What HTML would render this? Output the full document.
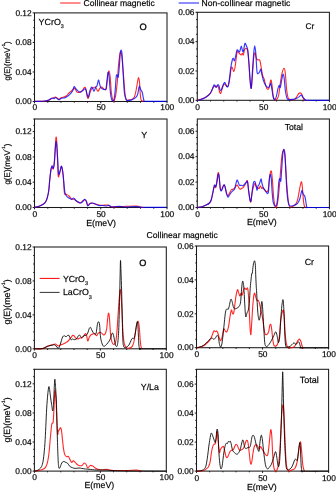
<!DOCTYPE html>
<html><head><meta charset="utf-8"><style>
html,body{margin:0;padding:0;background:#fff;}
svg{display:block;will-change:transform;font-family:"Liberation Sans", sans-serif;}
text{text-rendering:geometricPrecision;stroke:#000;stroke-width:0.25px;stroke-opacity:0.7;}
</style></head><body>
<svg width="336" height="492" viewBox="0 0 336 492">
<rect width="336" height="492" fill="#fff"/>
<rect x="34.5" y="12.9" width="132.50" height="88.60" fill="none" stroke="#1a1a1a" stroke-width="1.05"/>
<line x1="32.70" y1="101.50" x2="34.50" y2="101.50" stroke="#1a1a1a" stroke-width="1"/>
<text x="31.70" y="104.20" font-size="8.4" text-anchor="end" >0.00</text>
<line x1="33.30" y1="94.12" x2="34.50" y2="94.12" stroke="#1a1a1a" stroke-width="1"/>
<line x1="33.30" y1="86.73" x2="34.50" y2="86.73" stroke="#1a1a1a" stroke-width="1"/>
<line x1="33.30" y1="79.35" x2="34.50" y2="79.35" stroke="#1a1a1a" stroke-width="1"/>
<line x1="32.70" y1="71.97" x2="34.50" y2="71.97" stroke="#1a1a1a" stroke-width="1"/>
<text x="31.70" y="74.67" font-size="8.4" text-anchor="end" >0.04</text>
<line x1="33.30" y1="64.58" x2="34.50" y2="64.58" stroke="#1a1a1a" stroke-width="1"/>
<line x1="33.30" y1="57.20" x2="34.50" y2="57.20" stroke="#1a1a1a" stroke-width="1"/>
<line x1="33.30" y1="49.82" x2="34.50" y2="49.82" stroke="#1a1a1a" stroke-width="1"/>
<line x1="32.70" y1="42.43" x2="34.50" y2="42.43" stroke="#1a1a1a" stroke-width="1"/>
<text x="31.70" y="45.13" font-size="8.4" text-anchor="end" >0.08</text>
<line x1="33.30" y1="35.05" x2="34.50" y2="35.05" stroke="#1a1a1a" stroke-width="1"/>
<line x1="33.30" y1="27.67" x2="34.50" y2="27.67" stroke="#1a1a1a" stroke-width="1"/>
<line x1="33.30" y1="20.28" x2="34.50" y2="20.28" stroke="#1a1a1a" stroke-width="1"/>
<line x1="32.70" y1="12.90" x2="34.50" y2="12.90" stroke="#1a1a1a" stroke-width="1"/>
<text x="31.70" y="15.60" font-size="8.4" text-anchor="end" >0.12</text>
<line x1="34.50" y1="101.50" x2="34.50" y2="103.30" stroke="#1a1a1a" stroke-width="1"/>
<text x="34.80" y="110.20" font-size="8.4" text-anchor="middle" >0</text>
<line x1="47.75" y1="101.50" x2="47.75" y2="102.70" stroke="#1a1a1a" stroke-width="1"/>
<line x1="61.00" y1="101.50" x2="61.00" y2="102.70" stroke="#1a1a1a" stroke-width="1"/>
<line x1="74.25" y1="101.50" x2="74.25" y2="102.70" stroke="#1a1a1a" stroke-width="1"/>
<line x1="87.50" y1="101.50" x2="87.50" y2="102.70" stroke="#1a1a1a" stroke-width="1"/>
<line x1="100.75" y1="101.50" x2="100.75" y2="103.30" stroke="#1a1a1a" stroke-width="1"/>
<text x="101.05" y="110.20" font-size="8.4" text-anchor="middle" >50</text>
<line x1="114.00" y1="101.50" x2="114.00" y2="102.70" stroke="#1a1a1a" stroke-width="1"/>
<line x1="127.25" y1="101.50" x2="127.25" y2="102.70" stroke="#1a1a1a" stroke-width="1"/>
<line x1="140.50" y1="101.50" x2="140.50" y2="102.70" stroke="#1a1a1a" stroke-width="1"/>
<line x1="153.75" y1="101.50" x2="153.75" y2="102.70" stroke="#1a1a1a" stroke-width="1"/>
<line x1="167.00" y1="101.50" x2="167.00" y2="103.30" stroke="#1a1a1a" stroke-width="1"/>
<text x="167.30" y="110.20" font-size="8.4" text-anchor="middle" >100</text>
<rect x="197.3" y="12.3" width="132.10" height="88.00" fill="none" stroke="#1a1a1a" stroke-width="1.05"/>
<line x1="195.50" y1="100.30" x2="197.30" y2="100.30" stroke="#1a1a1a" stroke-width="1"/>
<text x="194.50" y="103.00" font-size="8.4" text-anchor="end" >0.00</text>
<line x1="196.10" y1="92.97" x2="197.30" y2="92.97" stroke="#1a1a1a" stroke-width="1"/>
<line x1="196.10" y1="85.63" x2="197.30" y2="85.63" stroke="#1a1a1a" stroke-width="1"/>
<line x1="196.10" y1="78.30" x2="197.30" y2="78.30" stroke="#1a1a1a" stroke-width="1"/>
<line x1="195.50" y1="70.97" x2="197.30" y2="70.97" stroke="#1a1a1a" stroke-width="1"/>
<text x="194.50" y="73.67" font-size="8.4" text-anchor="end" >0.02</text>
<line x1="196.10" y1="63.63" x2="197.30" y2="63.63" stroke="#1a1a1a" stroke-width="1"/>
<line x1="196.10" y1="56.30" x2="197.30" y2="56.30" stroke="#1a1a1a" stroke-width="1"/>
<line x1="196.10" y1="48.97" x2="197.30" y2="48.97" stroke="#1a1a1a" stroke-width="1"/>
<line x1="195.50" y1="41.63" x2="197.30" y2="41.63" stroke="#1a1a1a" stroke-width="1"/>
<text x="194.50" y="44.33" font-size="8.4" text-anchor="end" >0.04</text>
<line x1="196.10" y1="34.30" x2="197.30" y2="34.30" stroke="#1a1a1a" stroke-width="1"/>
<line x1="196.10" y1="26.97" x2="197.30" y2="26.97" stroke="#1a1a1a" stroke-width="1"/>
<line x1="196.10" y1="19.63" x2="197.30" y2="19.63" stroke="#1a1a1a" stroke-width="1"/>
<line x1="195.50" y1="12.30" x2="197.30" y2="12.30" stroke="#1a1a1a" stroke-width="1"/>
<text x="194.50" y="15.00" font-size="8.4" text-anchor="end" >0.06</text>
<line x1="197.30" y1="100.30" x2="197.30" y2="102.10" stroke="#1a1a1a" stroke-width="1"/>
<text x="197.60" y="109.50" font-size="8.4" text-anchor="middle" >0</text>
<line x1="210.51" y1="100.30" x2="210.51" y2="101.50" stroke="#1a1a1a" stroke-width="1"/>
<line x1="223.72" y1="100.30" x2="223.72" y2="101.50" stroke="#1a1a1a" stroke-width="1"/>
<line x1="236.93" y1="100.30" x2="236.93" y2="101.50" stroke="#1a1a1a" stroke-width="1"/>
<line x1="250.14" y1="100.30" x2="250.14" y2="101.50" stroke="#1a1a1a" stroke-width="1"/>
<line x1="263.35" y1="100.30" x2="263.35" y2="102.10" stroke="#1a1a1a" stroke-width="1"/>
<text x="263.65" y="109.50" font-size="8.4" text-anchor="middle" >50</text>
<line x1="276.56" y1="100.30" x2="276.56" y2="101.50" stroke="#1a1a1a" stroke-width="1"/>
<line x1="289.77" y1="100.30" x2="289.77" y2="101.50" stroke="#1a1a1a" stroke-width="1"/>
<line x1="302.98" y1="100.30" x2="302.98" y2="101.50" stroke="#1a1a1a" stroke-width="1"/>
<line x1="316.19" y1="100.30" x2="316.19" y2="101.50" stroke="#1a1a1a" stroke-width="1"/>
<line x1="329.40" y1="100.30" x2="329.40" y2="102.10" stroke="#1a1a1a" stroke-width="1"/>
<text x="329.70" y="109.50" font-size="8.4" text-anchor="middle" >100</text>
<rect x="34.5" y="119.0" width="132.50" height="88.50" fill="none" stroke="#1a1a1a" stroke-width="1.05"/>
<line x1="32.70" y1="207.50" x2="34.50" y2="207.50" stroke="#1a1a1a" stroke-width="1"/>
<text x="31.70" y="210.20" font-size="8.4" text-anchor="end" >0.00</text>
<line x1="33.30" y1="201.18" x2="34.50" y2="201.18" stroke="#1a1a1a" stroke-width="1"/>
<line x1="33.30" y1="194.86" x2="34.50" y2="194.86" stroke="#1a1a1a" stroke-width="1"/>
<line x1="33.30" y1="188.54" x2="34.50" y2="188.54" stroke="#1a1a1a" stroke-width="1"/>
<line x1="32.70" y1="182.21" x2="34.50" y2="182.21" stroke="#1a1a1a" stroke-width="1"/>
<text x="31.70" y="184.91" font-size="8.4" text-anchor="end" >0.04</text>
<line x1="33.30" y1="175.89" x2="34.50" y2="175.89" stroke="#1a1a1a" stroke-width="1"/>
<line x1="33.30" y1="169.57" x2="34.50" y2="169.57" stroke="#1a1a1a" stroke-width="1"/>
<line x1="33.30" y1="163.25" x2="34.50" y2="163.25" stroke="#1a1a1a" stroke-width="1"/>
<line x1="32.70" y1="156.93" x2="34.50" y2="156.93" stroke="#1a1a1a" stroke-width="1"/>
<text x="31.70" y="159.63" font-size="8.4" text-anchor="end" >0.08</text>
<line x1="33.30" y1="150.61" x2="34.50" y2="150.61" stroke="#1a1a1a" stroke-width="1"/>
<line x1="33.30" y1="144.29" x2="34.50" y2="144.29" stroke="#1a1a1a" stroke-width="1"/>
<line x1="33.30" y1="137.96" x2="34.50" y2="137.96" stroke="#1a1a1a" stroke-width="1"/>
<line x1="32.70" y1="131.64" x2="34.50" y2="131.64" stroke="#1a1a1a" stroke-width="1"/>
<text x="31.70" y="134.34" font-size="8.4" text-anchor="end" >0.12</text>
<line x1="33.30" y1="125.32" x2="34.50" y2="125.32" stroke="#1a1a1a" stroke-width="1"/>
<line x1="33.30" y1="119.00" x2="34.50" y2="119.00" stroke="#1a1a1a" stroke-width="1"/>
<line x1="34.50" y1="207.50" x2="34.50" y2="209.30" stroke="#1a1a1a" stroke-width="1"/>
<text x="34.80" y="216.50" font-size="8.4" text-anchor="middle" >0</text>
<line x1="47.75" y1="207.50" x2="47.75" y2="208.70" stroke="#1a1a1a" stroke-width="1"/>
<line x1="61.00" y1="207.50" x2="61.00" y2="208.70" stroke="#1a1a1a" stroke-width="1"/>
<line x1="74.25" y1="207.50" x2="74.25" y2="208.70" stroke="#1a1a1a" stroke-width="1"/>
<line x1="87.50" y1="207.50" x2="87.50" y2="208.70" stroke="#1a1a1a" stroke-width="1"/>
<line x1="100.75" y1="207.50" x2="100.75" y2="209.30" stroke="#1a1a1a" stroke-width="1"/>
<text x="101.05" y="216.50" font-size="8.4" text-anchor="middle" >50</text>
<line x1="114.00" y1="207.50" x2="114.00" y2="208.70" stroke="#1a1a1a" stroke-width="1"/>
<line x1="127.25" y1="207.50" x2="127.25" y2="208.70" stroke="#1a1a1a" stroke-width="1"/>
<line x1="140.50" y1="207.50" x2="140.50" y2="208.70" stroke="#1a1a1a" stroke-width="1"/>
<line x1="153.75" y1="207.50" x2="153.75" y2="208.70" stroke="#1a1a1a" stroke-width="1"/>
<line x1="167.00" y1="207.50" x2="167.00" y2="209.30" stroke="#1a1a1a" stroke-width="1"/>
<text x="167.30" y="216.50" font-size="8.4" text-anchor="middle" >100</text>
<rect x="197.3" y="119.0" width="132.10" height="88.50" fill="none" stroke="#1a1a1a" stroke-width="1.05"/>
<line x1="195.50" y1="207.50" x2="197.30" y2="207.50" stroke="#1a1a1a" stroke-width="1"/>
<text x="194.50" y="210.20" font-size="8.4" text-anchor="end" >0.00</text>
<line x1="196.10" y1="201.14" x2="197.30" y2="201.14" stroke="#1a1a1a" stroke-width="1"/>
<line x1="196.10" y1="194.78" x2="197.30" y2="194.78" stroke="#1a1a1a" stroke-width="1"/>
<line x1="196.10" y1="188.43" x2="197.30" y2="188.43" stroke="#1a1a1a" stroke-width="1"/>
<line x1="195.50" y1="182.07" x2="197.30" y2="182.07" stroke="#1a1a1a" stroke-width="1"/>
<text x="194.50" y="184.77" font-size="8.4" text-anchor="end" >0.02</text>
<line x1="196.10" y1="175.71" x2="197.30" y2="175.71" stroke="#1a1a1a" stroke-width="1"/>
<line x1="196.10" y1="169.35" x2="197.30" y2="169.35" stroke="#1a1a1a" stroke-width="1"/>
<line x1="196.10" y1="163.00" x2="197.30" y2="163.00" stroke="#1a1a1a" stroke-width="1"/>
<line x1="195.50" y1="156.64" x2="197.30" y2="156.64" stroke="#1a1a1a" stroke-width="1"/>
<text x="194.50" y="159.34" font-size="8.4" text-anchor="end" >0.04</text>
<line x1="196.10" y1="150.28" x2="197.30" y2="150.28" stroke="#1a1a1a" stroke-width="1"/>
<line x1="196.10" y1="143.92" x2="197.30" y2="143.92" stroke="#1a1a1a" stroke-width="1"/>
<line x1="196.10" y1="137.56" x2="197.30" y2="137.56" stroke="#1a1a1a" stroke-width="1"/>
<line x1="195.50" y1="131.21" x2="197.30" y2="131.21" stroke="#1a1a1a" stroke-width="1"/>
<text x="194.50" y="133.91" font-size="8.4" text-anchor="end" >0.06</text>
<line x1="196.10" y1="124.85" x2="197.30" y2="124.85" stroke="#1a1a1a" stroke-width="1"/>
<line x1="197.30" y1="207.50" x2="197.30" y2="209.30" stroke="#1a1a1a" stroke-width="1"/>
<text x="197.60" y="216.50" font-size="8.4" text-anchor="middle" >0</text>
<line x1="210.51" y1="207.50" x2="210.51" y2="208.70" stroke="#1a1a1a" stroke-width="1"/>
<line x1="223.72" y1="207.50" x2="223.72" y2="208.70" stroke="#1a1a1a" stroke-width="1"/>
<line x1="236.93" y1="207.50" x2="236.93" y2="208.70" stroke="#1a1a1a" stroke-width="1"/>
<line x1="250.14" y1="207.50" x2="250.14" y2="208.70" stroke="#1a1a1a" stroke-width="1"/>
<line x1="263.35" y1="207.50" x2="263.35" y2="209.30" stroke="#1a1a1a" stroke-width="1"/>
<text x="263.65" y="216.50" font-size="8.4" text-anchor="middle" >50</text>
<line x1="276.56" y1="207.50" x2="276.56" y2="208.70" stroke="#1a1a1a" stroke-width="1"/>
<line x1="289.77" y1="207.50" x2="289.77" y2="208.70" stroke="#1a1a1a" stroke-width="1"/>
<line x1="302.98" y1="207.50" x2="302.98" y2="208.70" stroke="#1a1a1a" stroke-width="1"/>
<line x1="316.19" y1="207.50" x2="316.19" y2="208.70" stroke="#1a1a1a" stroke-width="1"/>
<line x1="329.40" y1="207.50" x2="329.40" y2="209.30" stroke="#1a1a1a" stroke-width="1"/>
<text x="329.70" y="216.50" font-size="8.4" text-anchor="middle" >100</text>
<rect x="34.4" y="247.0" width="131.90" height="101.80" fill="none" stroke="#1a1a1a" stroke-width="1.05"/>
<line x1="32.60" y1="348.80" x2="34.40" y2="348.80" stroke="#1a1a1a" stroke-width="1"/>
<text x="31.60" y="351.50" font-size="8.4" text-anchor="end" >0.00</text>
<line x1="33.20" y1="340.32" x2="34.40" y2="340.32" stroke="#1a1a1a" stroke-width="1"/>
<line x1="33.20" y1="331.83" x2="34.40" y2="331.83" stroke="#1a1a1a" stroke-width="1"/>
<line x1="33.20" y1="323.35" x2="34.40" y2="323.35" stroke="#1a1a1a" stroke-width="1"/>
<line x1="32.60" y1="314.87" x2="34.40" y2="314.87" stroke="#1a1a1a" stroke-width="1"/>
<text x="31.60" y="317.57" font-size="8.4" text-anchor="end" >0.04</text>
<line x1="33.20" y1="306.38" x2="34.40" y2="306.38" stroke="#1a1a1a" stroke-width="1"/>
<line x1="33.20" y1="297.90" x2="34.40" y2="297.90" stroke="#1a1a1a" stroke-width="1"/>
<line x1="33.20" y1="289.42" x2="34.40" y2="289.42" stroke="#1a1a1a" stroke-width="1"/>
<line x1="32.60" y1="280.93" x2="34.40" y2="280.93" stroke="#1a1a1a" stroke-width="1"/>
<text x="31.60" y="283.63" font-size="8.4" text-anchor="end" >0.08</text>
<line x1="33.20" y1="272.45" x2="34.40" y2="272.45" stroke="#1a1a1a" stroke-width="1"/>
<line x1="33.20" y1="263.97" x2="34.40" y2="263.97" stroke="#1a1a1a" stroke-width="1"/>
<line x1="33.20" y1="255.48" x2="34.40" y2="255.48" stroke="#1a1a1a" stroke-width="1"/>
<line x1="32.60" y1="247.00" x2="34.40" y2="247.00" stroke="#1a1a1a" stroke-width="1"/>
<text x="31.60" y="249.70" font-size="8.4" text-anchor="end" >0.12</text>
<line x1="34.40" y1="348.80" x2="34.40" y2="350.60" stroke="#1a1a1a" stroke-width="1"/>
<text x="34.70" y="358.30" font-size="8.4" text-anchor="middle" >0</text>
<line x1="47.59" y1="348.80" x2="47.59" y2="350.00" stroke="#1a1a1a" stroke-width="1"/>
<line x1="60.78" y1="348.80" x2="60.78" y2="350.00" stroke="#1a1a1a" stroke-width="1"/>
<line x1="73.97" y1="348.80" x2="73.97" y2="350.00" stroke="#1a1a1a" stroke-width="1"/>
<line x1="87.16" y1="348.80" x2="87.16" y2="350.00" stroke="#1a1a1a" stroke-width="1"/>
<line x1="100.35" y1="348.80" x2="100.35" y2="350.60" stroke="#1a1a1a" stroke-width="1"/>
<text x="100.65" y="358.30" font-size="8.4" text-anchor="middle" >50</text>
<line x1="113.54" y1="348.80" x2="113.54" y2="350.00" stroke="#1a1a1a" stroke-width="1"/>
<line x1="126.73" y1="348.80" x2="126.73" y2="350.00" stroke="#1a1a1a" stroke-width="1"/>
<line x1="139.92" y1="348.80" x2="139.92" y2="350.00" stroke="#1a1a1a" stroke-width="1"/>
<line x1="153.11" y1="348.80" x2="153.11" y2="350.00" stroke="#1a1a1a" stroke-width="1"/>
<line x1="166.30" y1="348.80" x2="166.30" y2="350.60" stroke="#1a1a1a" stroke-width="1"/>
<text x="166.60" y="358.30" font-size="8.4" text-anchor="middle" >100</text>
<rect x="196.5" y="246.0" width="132.10" height="101.70" fill="none" stroke="#1a1a1a" stroke-width="1.05"/>
<line x1="194.70" y1="347.70" x2="196.50" y2="347.70" stroke="#1a1a1a" stroke-width="1"/>
<text x="193.70" y="350.40" font-size="8.4" text-anchor="end" >0.00</text>
<line x1="195.30" y1="339.22" x2="196.50" y2="339.22" stroke="#1a1a1a" stroke-width="1"/>
<line x1="195.30" y1="330.75" x2="196.50" y2="330.75" stroke="#1a1a1a" stroke-width="1"/>
<line x1="195.30" y1="322.27" x2="196.50" y2="322.27" stroke="#1a1a1a" stroke-width="1"/>
<line x1="194.70" y1="313.80" x2="196.50" y2="313.80" stroke="#1a1a1a" stroke-width="1"/>
<text x="193.70" y="316.50" font-size="8.4" text-anchor="end" >0.02</text>
<line x1="195.30" y1="305.32" x2="196.50" y2="305.32" stroke="#1a1a1a" stroke-width="1"/>
<line x1="195.30" y1="296.85" x2="196.50" y2="296.85" stroke="#1a1a1a" stroke-width="1"/>
<line x1="195.30" y1="288.38" x2="196.50" y2="288.38" stroke="#1a1a1a" stroke-width="1"/>
<line x1="194.70" y1="279.90" x2="196.50" y2="279.90" stroke="#1a1a1a" stroke-width="1"/>
<text x="193.70" y="282.60" font-size="8.4" text-anchor="end" >0.04</text>
<line x1="195.30" y1="271.43" x2="196.50" y2="271.43" stroke="#1a1a1a" stroke-width="1"/>
<line x1="195.30" y1="262.95" x2="196.50" y2="262.95" stroke="#1a1a1a" stroke-width="1"/>
<line x1="195.30" y1="254.47" x2="196.50" y2="254.47" stroke="#1a1a1a" stroke-width="1"/>
<line x1="194.70" y1="246.00" x2="196.50" y2="246.00" stroke="#1a1a1a" stroke-width="1"/>
<text x="193.70" y="248.70" font-size="8.4" text-anchor="end" >0.06</text>
<line x1="196.50" y1="347.70" x2="196.50" y2="349.50" stroke="#1a1a1a" stroke-width="1"/>
<text x="196.80" y="356.90" font-size="8.4" text-anchor="middle" >0</text>
<line x1="209.71" y1="347.70" x2="209.71" y2="348.90" stroke="#1a1a1a" stroke-width="1"/>
<line x1="222.92" y1="347.70" x2="222.92" y2="348.90" stroke="#1a1a1a" stroke-width="1"/>
<line x1="236.13" y1="347.70" x2="236.13" y2="348.90" stroke="#1a1a1a" stroke-width="1"/>
<line x1="249.34" y1="347.70" x2="249.34" y2="348.90" stroke="#1a1a1a" stroke-width="1"/>
<line x1="262.55" y1="347.70" x2="262.55" y2="349.50" stroke="#1a1a1a" stroke-width="1"/>
<text x="262.85" y="356.90" font-size="8.4" text-anchor="middle" >50</text>
<line x1="275.76" y1="347.70" x2="275.76" y2="348.90" stroke="#1a1a1a" stroke-width="1"/>
<line x1="288.97" y1="347.70" x2="288.97" y2="348.90" stroke="#1a1a1a" stroke-width="1"/>
<line x1="302.18" y1="347.70" x2="302.18" y2="348.90" stroke="#1a1a1a" stroke-width="1"/>
<line x1="315.39" y1="347.70" x2="315.39" y2="348.90" stroke="#1a1a1a" stroke-width="1"/>
<line x1="328.60" y1="347.70" x2="328.60" y2="349.50" stroke="#1a1a1a" stroke-width="1"/>
<text x="328.90" y="356.90" font-size="8.4" text-anchor="middle" >100</text>
<rect x="34.4" y="369.3" width="131.90" height="101.80" fill="none" stroke="#1a1a1a" stroke-width="1.05"/>
<line x1="32.60" y1="471.10" x2="34.40" y2="471.10" stroke="#1a1a1a" stroke-width="1"/>
<text x="31.60" y="473.80" font-size="8.4" text-anchor="end" >0.00</text>
<line x1="33.20" y1="463.83" x2="34.40" y2="463.83" stroke="#1a1a1a" stroke-width="1"/>
<line x1="33.20" y1="456.56" x2="34.40" y2="456.56" stroke="#1a1a1a" stroke-width="1"/>
<line x1="33.20" y1="449.29" x2="34.40" y2="449.29" stroke="#1a1a1a" stroke-width="1"/>
<line x1="32.60" y1="442.01" x2="34.40" y2="442.01" stroke="#1a1a1a" stroke-width="1"/>
<text x="31.60" y="444.71" font-size="8.4" text-anchor="end" >0.04</text>
<line x1="33.20" y1="434.74" x2="34.40" y2="434.74" stroke="#1a1a1a" stroke-width="1"/>
<line x1="33.20" y1="427.47" x2="34.40" y2="427.47" stroke="#1a1a1a" stroke-width="1"/>
<line x1="33.20" y1="420.20" x2="34.40" y2="420.20" stroke="#1a1a1a" stroke-width="1"/>
<line x1="32.60" y1="412.93" x2="34.40" y2="412.93" stroke="#1a1a1a" stroke-width="1"/>
<text x="31.60" y="415.63" font-size="8.4" text-anchor="end" >0.08</text>
<line x1="33.20" y1="405.66" x2="34.40" y2="405.66" stroke="#1a1a1a" stroke-width="1"/>
<line x1="33.20" y1="398.39" x2="34.40" y2="398.39" stroke="#1a1a1a" stroke-width="1"/>
<line x1="33.20" y1="391.11" x2="34.40" y2="391.11" stroke="#1a1a1a" stroke-width="1"/>
<line x1="32.60" y1="383.84" x2="34.40" y2="383.84" stroke="#1a1a1a" stroke-width="1"/>
<text x="31.60" y="386.54" font-size="8.4" text-anchor="end" >0.12</text>
<line x1="33.20" y1="376.57" x2="34.40" y2="376.57" stroke="#1a1a1a" stroke-width="1"/>
<line x1="33.20" y1="369.30" x2="34.40" y2="369.30" stroke="#1a1a1a" stroke-width="1"/>
<line x1="34.40" y1="471.10" x2="34.40" y2="472.90" stroke="#1a1a1a" stroke-width="1"/>
<text x="34.70" y="480.40" font-size="8.4" text-anchor="middle" >0</text>
<line x1="47.59" y1="471.10" x2="47.59" y2="472.30" stroke="#1a1a1a" stroke-width="1"/>
<line x1="60.78" y1="471.10" x2="60.78" y2="472.30" stroke="#1a1a1a" stroke-width="1"/>
<line x1="73.97" y1="471.10" x2="73.97" y2="472.30" stroke="#1a1a1a" stroke-width="1"/>
<line x1="87.16" y1="471.10" x2="87.16" y2="472.30" stroke="#1a1a1a" stroke-width="1"/>
<line x1="100.35" y1="471.10" x2="100.35" y2="472.90" stroke="#1a1a1a" stroke-width="1"/>
<text x="100.65" y="480.40" font-size="8.4" text-anchor="middle" >50</text>
<line x1="113.54" y1="471.10" x2="113.54" y2="472.30" stroke="#1a1a1a" stroke-width="1"/>
<line x1="126.73" y1="471.10" x2="126.73" y2="472.30" stroke="#1a1a1a" stroke-width="1"/>
<line x1="139.92" y1="471.10" x2="139.92" y2="472.30" stroke="#1a1a1a" stroke-width="1"/>
<line x1="153.11" y1="471.10" x2="153.11" y2="472.30" stroke="#1a1a1a" stroke-width="1"/>
<line x1="166.30" y1="471.10" x2="166.30" y2="472.90" stroke="#1a1a1a" stroke-width="1"/>
<text x="166.60" y="480.40" font-size="8.4" text-anchor="middle" >100</text>
<rect x="196.5" y="369.3" width="132.10" height="101.80" fill="none" stroke="#1a1a1a" stroke-width="1.05"/>
<line x1="194.70" y1="471.10" x2="196.50" y2="471.10" stroke="#1a1a1a" stroke-width="1"/>
<text x="193.70" y="473.80" font-size="8.4" text-anchor="end" >0.00</text>
<line x1="195.30" y1="463.85" x2="196.50" y2="463.85" stroke="#1a1a1a" stroke-width="1"/>
<line x1="195.30" y1="456.60" x2="196.50" y2="456.60" stroke="#1a1a1a" stroke-width="1"/>
<line x1="195.30" y1="449.35" x2="196.50" y2="449.35" stroke="#1a1a1a" stroke-width="1"/>
<line x1="194.70" y1="442.10" x2="196.50" y2="442.10" stroke="#1a1a1a" stroke-width="1"/>
<text x="193.70" y="444.80" font-size="8.4" text-anchor="end" >0.02</text>
<line x1="195.30" y1="434.85" x2="196.50" y2="434.85" stroke="#1a1a1a" stroke-width="1"/>
<line x1="195.30" y1="427.60" x2="196.50" y2="427.60" stroke="#1a1a1a" stroke-width="1"/>
<line x1="195.30" y1="420.35" x2="196.50" y2="420.35" stroke="#1a1a1a" stroke-width="1"/>
<line x1="194.70" y1="413.09" x2="196.50" y2="413.09" stroke="#1a1a1a" stroke-width="1"/>
<text x="193.70" y="415.79" font-size="8.4" text-anchor="end" >0.04</text>
<line x1="195.30" y1="405.84" x2="196.50" y2="405.84" stroke="#1a1a1a" stroke-width="1"/>
<line x1="195.30" y1="398.59" x2="196.50" y2="398.59" stroke="#1a1a1a" stroke-width="1"/>
<line x1="195.30" y1="391.34" x2="196.50" y2="391.34" stroke="#1a1a1a" stroke-width="1"/>
<line x1="194.70" y1="384.09" x2="196.50" y2="384.09" stroke="#1a1a1a" stroke-width="1"/>
<text x="193.70" y="386.79" font-size="8.4" text-anchor="end" >0.06</text>
<line x1="195.30" y1="376.84" x2="196.50" y2="376.84" stroke="#1a1a1a" stroke-width="1"/>
<line x1="195.30" y1="369.59" x2="196.50" y2="369.59" stroke="#1a1a1a" stroke-width="1"/>
<line x1="196.50" y1="471.10" x2="196.50" y2="472.90" stroke="#1a1a1a" stroke-width="1"/>
<text x="196.80" y="480.70" font-size="8.4" text-anchor="middle" >0</text>
<line x1="209.71" y1="471.10" x2="209.71" y2="472.30" stroke="#1a1a1a" stroke-width="1"/>
<line x1="222.92" y1="471.10" x2="222.92" y2="472.30" stroke="#1a1a1a" stroke-width="1"/>
<line x1="236.13" y1="471.10" x2="236.13" y2="472.30" stroke="#1a1a1a" stroke-width="1"/>
<line x1="249.34" y1="471.10" x2="249.34" y2="472.30" stroke="#1a1a1a" stroke-width="1"/>
<line x1="262.55" y1="471.10" x2="262.55" y2="472.90" stroke="#1a1a1a" stroke-width="1"/>
<text x="262.85" y="480.70" font-size="8.4" text-anchor="middle" >50</text>
<line x1="275.76" y1="471.10" x2="275.76" y2="472.30" stroke="#1a1a1a" stroke-width="1"/>
<line x1="288.97" y1="471.10" x2="288.97" y2="472.30" stroke="#1a1a1a" stroke-width="1"/>
<line x1="302.18" y1="471.10" x2="302.18" y2="472.30" stroke="#1a1a1a" stroke-width="1"/>
<line x1="315.39" y1="471.10" x2="315.39" y2="472.30" stroke="#1a1a1a" stroke-width="1"/>
<line x1="328.60" y1="471.10" x2="328.60" y2="472.90" stroke="#1a1a1a" stroke-width="1"/>
<text x="328.90" y="480.70" font-size="8.4" text-anchor="middle" >100</text>
<line x1="60.20" y1="3.00" x2="80.60" y2="3.00" stroke="#ff0000" stroke-width="0.9"/>
<text x="83.60" y="5.90" font-size="8.6" text-anchor="start" >Collinear magnetic</text>
<line x1="178.70" y1="3.00" x2="199.00" y2="3.00" stroke="#0000ff" stroke-width="0.9"/>
<text x="201.40" y="5.90" font-size="8.6" text-anchor="start" textLength="89">Non-collinear magnetic</text>
<text x="38.6" y="24.8" font-size="8.9">YCrO<tspan font-size="5.34" dy="2.9">3</tspan></text>
<text x="139.50" y="29.60" font-size="9.3" text-anchor="start" style="stroke-width:0.45px">O</text>
<text x="305.40" y="28.80" font-size="8.4" text-anchor="start" >Cr</text>
<text x="141.30" y="137.60" font-size="8.9" text-anchor="start" >Y</text>
<text x="284.70" y="130.10" font-size="8.7" text-anchor="start" >Total</text>
<text x="146.60" y="237.50" font-size="8.6" text-anchor="start" >Collinear magnetic</text>
<line x1="39.70" y1="278.40" x2="59.60" y2="278.40" stroke="#ff0000" stroke-width="1"/>
<line x1="39.70" y1="292.40" x2="59.60" y2="292.40" stroke="#333" stroke-width="1"/>
<text x="62.9" y="281.6" font-size="8.8">YCrO<tspan font-size="5.46" dy="3.3">3</tspan></text>
<text x="62.9" y="295.2" font-size="8.8">LaCrO<tspan font-size="5.46" dy="3.3">3</tspan></text>
<text x="139.20" y="266.30" font-size="9.1" text-anchor="start" style="stroke-width:0.45px">O</text>
<text x="304.70" y="265.00" font-size="8.9" text-anchor="start" >Cr</text>
<text x="140.80" y="390.30" font-size="8.8" text-anchor="start" >Y/La</text>
<text x="299.80" y="383.40" font-size="9.0" text-anchor="start" >Total</text>
<text x="101.10" y="226.30" font-size="8.8" text-anchor="middle" >E(meV)</text>
<text x="261.80" y="225.00" font-size="8.8" text-anchor="middle" >E(meV)</text>
<text x="99.40" y="488.30" font-size="8.8" text-anchor="middle" >E(meV)</text>
<text x="261.80" y="489.90" font-size="8.8" text-anchor="middle" >E(meV)</text>
<text transform="translate(10.4,61) rotate(-90)" font-size="8.3" text-anchor="middle" textLength="39.2" lengthAdjust="spacingAndGlyphs">g(E)(meV<tspan font-size="4.57" dy="-4.98">-1</tspan><tspan dy="4.98">)</tspan></text>
<text transform="translate(10.4,164.1) rotate(-90)" font-size="8.4" text-anchor="middle" textLength="41" lengthAdjust="spacingAndGlyphs">g(E)(meV<tspan font-size="4.62" dy="-5.04">-1</tspan><tspan dy="5.04">)</tspan></text>
<text transform="translate(9.9,301.9) rotate(-90)" font-size="9.0" text-anchor="middle" textLength="45.4" lengthAdjust="spacingAndGlyphs">g(E)(meV<tspan font-size="4.95" dy="-5.40">-1</tspan><tspan dy="5.40">)</tspan></text>
<text transform="translate(9.9,419.9) rotate(-90)" font-size="9.0" text-anchor="middle" textLength="45.4" lengthAdjust="spacingAndGlyphs">g(E)(meV<tspan font-size="4.95" dy="-5.40">-1</tspan><tspan dy="5.40">)</tspan></text>
<path d="M34.50,101.40C36.08,101.37 41.72,101.38 44.00,101.20C46.28,101.02 47.08,100.63 48.20,100.30C49.32,99.97 49.87,99.58 50.70,99.20C51.53,98.82 52.43,98.37 53.20,98.00C53.97,97.63 54.67,97.00 55.30,97.00C55.93,97.00 56.38,97.63 57.00,98.00C57.62,98.37 58.25,99.28 59.00,99.20C59.75,99.12 60.67,97.87 61.50,97.50C62.33,97.13 63.17,97.28 64.00,97.00C64.83,96.72 65.67,96.47 66.50,95.80C67.33,95.13 68.17,93.83 69.00,93.00C69.83,92.17 70.72,91.52 71.50,90.80C72.28,90.08 73.15,89.12 73.70,88.70C74.25,88.28 74.33,87.87 74.80,88.30C75.27,88.73 75.93,90.60 76.50,91.30C77.07,92.00 77.57,92.38 78.20,92.50C78.83,92.62 79.55,92.42 80.30,92.00C81.05,91.58 82.03,90.75 82.70,90.00C83.37,89.25 83.80,87.78 84.30,87.50C84.80,87.22 85.20,86.72 85.70,88.30C86.20,89.88 86.83,95.42 87.30,97.00C87.77,98.58 88.02,98.63 88.50,97.80C88.98,96.97 89.65,93.52 90.20,92.00C90.75,90.48 91.25,89.40 91.80,88.70C92.35,88.00 92.93,88.08 93.50,87.80C94.07,87.52 94.65,86.72 95.20,87.00C95.75,87.28 96.33,88.80 96.80,89.50C97.27,90.20 97.43,91.48 98.00,91.20C98.57,90.92 99.57,88.50 100.20,87.80C100.83,87.10 101.12,86.77 101.80,87.00C102.48,87.23 103.55,88.92 104.30,89.20C105.05,89.48 105.73,90.73 106.30,88.70C106.87,86.67 107.25,80.00 107.70,77.00C108.15,74.00 108.58,70.70 109.00,70.70C109.42,70.70 109.82,73.45 110.20,77.00C110.58,80.55 110.83,88.05 111.30,92.00C111.77,95.95 112.50,99.32 113.00,100.70C113.50,102.08 113.85,101.20 114.30,100.30C114.75,99.40 115.20,98.35 115.70,95.30C116.20,92.25 116.83,87.00 117.30,82.00C117.77,77.00 118.10,69.75 118.50,65.30C118.90,60.85 119.33,57.52 119.70,55.30C120.07,53.08 120.35,51.85 120.70,52.00C121.05,52.15 121.33,52.32 121.80,56.20C122.27,60.08 122.93,68.78 123.50,75.30C124.07,81.82 124.65,91.15 125.20,95.30C125.75,99.45 126.25,99.40 126.80,100.20C127.35,101.00 127.70,100.22 128.50,100.10C129.30,99.98 130.77,99.81 131.60,99.50C132.43,99.19 132.93,98.98 133.50,98.25C134.07,97.52 134.54,96.56 135.00,95.10C135.46,93.64 135.83,91.68 136.25,89.50C136.67,87.32 137.12,83.98 137.50,82.00C137.88,80.02 138.17,77.60 138.50,77.60C138.83,77.60 139.25,79.81 139.50,82.00C139.75,84.19 139.79,88.04 140.00,90.75C140.21,93.46 140.48,96.58 140.75,98.25C141.02,99.92 141.14,100.26 141.60,100.75C142.06,101.24 143.18,101.12 143.50,101.20" fill="none" stroke="#ff0000" stroke-width="1.1" stroke-opacity="0.85" stroke-linejoin="round"/>
<path d="M34.50,101.30C35.80,101.30 40.30,101.40 42.30,101.30C44.30,101.20 45.38,100.92 46.50,100.70C47.62,100.48 48.30,100.33 49.00,100.00C49.70,99.67 50.15,99.03 50.70,98.70C51.25,98.37 51.75,98.00 52.30,98.00C52.85,98.00 53.43,98.78 54.00,98.70C54.57,98.62 55.15,97.50 55.70,97.50C56.25,97.50 56.75,98.33 57.30,98.70C57.85,99.07 58.43,99.70 59.00,99.70C59.57,99.70 60.00,98.98 60.70,98.70C61.40,98.42 62.37,98.20 63.20,98.00C64.03,97.80 64.87,97.87 65.70,97.50C66.53,97.13 67.37,96.50 68.20,95.80C69.03,95.10 69.95,94.13 70.70,93.30C71.45,92.47 72.15,91.90 72.70,90.80C73.25,89.70 73.57,87.17 74.00,86.70C74.43,86.23 74.80,87.45 75.30,88.00C75.80,88.55 76.38,89.38 77.00,90.00C77.62,90.62 78.33,91.37 79.00,91.70C79.67,92.03 80.30,92.23 81.00,92.00C81.70,91.77 82.57,90.85 83.20,90.30C83.83,89.75 84.33,88.75 84.80,88.70C85.27,88.65 85.58,88.95 86.00,90.00C86.42,91.05 86.88,93.83 87.30,95.00C87.72,96.17 88.10,97.63 88.50,97.00C88.90,96.37 89.23,92.82 89.70,91.20C90.17,89.58 90.80,87.78 91.30,87.30C91.80,86.82 92.25,87.65 92.70,88.30C93.15,88.95 93.50,91.37 94.00,91.20C94.50,91.03 95.20,88.22 95.70,87.30C96.20,86.38 96.53,86.92 97.00,85.70C97.47,84.48 98.05,80.20 98.50,80.00C98.95,79.80 99.28,83.20 99.70,84.50C100.12,85.80 100.50,87.05 101.00,87.80C101.50,88.55 102.08,88.72 102.70,89.00C103.32,89.28 104.15,89.55 104.70,89.50C105.25,89.45 105.62,90.23 106.00,88.70C106.38,87.17 106.67,83.03 107.00,80.30C107.33,77.57 107.67,73.13 108.00,72.30C108.33,71.47 108.70,72.98 109.00,75.30C109.30,77.62 109.47,82.58 109.80,86.20C110.13,89.82 110.58,94.58 111.00,97.00C111.42,99.42 111.80,100.28 112.30,100.70C112.80,101.12 113.52,101.23 114.00,99.50C114.48,97.77 114.82,94.18 115.20,90.30C115.58,86.42 115.95,78.70 116.30,76.20C116.65,73.70 116.98,75.17 117.30,75.30C117.62,75.43 117.87,78.38 118.20,77.00C118.53,75.62 118.97,70.88 119.30,67.00C119.63,63.12 119.92,56.53 120.20,53.70C120.48,50.87 120.70,50.00 121.00,50.00C121.30,50.00 121.67,50.32 122.00,53.70C122.33,57.08 122.62,63.92 123.00,70.30C123.38,76.68 123.80,87.13 124.30,92.00C124.80,96.87 125.38,98.10 126.00,99.50C126.62,100.90 127.17,100.30 128.00,100.40C128.83,100.50 129.95,100.42 131.00,100.10C132.05,99.78 133.38,99.08 134.30,98.50C135.22,97.92 135.92,97.38 136.50,96.60C137.08,95.82 137.45,94.98 137.80,93.80C138.15,92.62 138.33,90.80 138.60,89.50C138.87,88.20 139.10,86.10 139.40,86.00C139.70,85.90 140.03,88.07 140.40,88.90C140.77,89.73 141.25,90.28 141.60,91.00C141.95,91.72 142.22,92.15 142.50,93.25C142.78,94.35 142.98,96.35 143.25,97.60C143.52,98.85 143.72,100.13 144.10,100.75C144.47,101.37 141.77,101.21 145.50,101.30C149.23,101.39 163.00,101.30 166.50,101.30" fill="none" stroke="#0000ff" stroke-width="1.15" stroke-opacity="0.78" stroke-linejoin="round"/>
<path d="M197.50,100.30C198.80,99.83 203.17,98.67 205.30,97.50C207.43,96.33 209.05,94.83 210.30,93.30C211.55,91.77 212.10,89.47 212.80,88.30C213.50,87.13 214.00,86.57 214.50,86.30C215.00,86.03 215.38,86.78 215.80,86.70C216.22,86.62 216.58,85.80 217.00,85.80C217.42,85.80 217.88,85.72 218.30,86.70C218.72,87.68 219.10,90.60 219.50,91.70C219.90,92.80 220.23,93.87 220.70,93.30C221.17,92.73 221.75,89.82 222.30,88.30C222.85,86.78 223.43,84.75 224.00,84.20C224.57,83.65 225.15,84.58 225.70,85.00C226.25,85.42 226.80,86.83 227.30,86.70C227.80,86.57 228.25,85.87 228.70,84.20C229.15,82.53 229.58,79.35 230.00,76.70C230.42,74.05 230.82,69.83 231.20,68.30C231.58,66.77 231.88,66.93 232.30,67.50C232.72,68.07 233.25,71.70 233.70,71.70C234.15,71.70 234.58,69.73 235.00,67.50C235.42,65.27 235.82,60.93 236.20,58.30C236.58,55.67 236.88,52.67 237.30,51.70C237.72,50.73 238.25,52.08 238.70,52.50C239.15,52.92 239.58,53.78 240.00,54.20C240.42,54.62 240.82,55.15 241.20,55.00C241.58,54.85 241.95,53.30 242.30,53.30C242.65,53.30 242.93,55.55 243.30,55.00C243.67,54.45 244.10,51.12 244.50,50.00C244.90,48.88 245.28,48.43 245.70,48.30C246.12,48.17 246.65,48.63 247.00,49.20C247.35,49.77 247.47,49.07 247.80,51.70C248.13,54.33 248.63,60.28 249.00,65.00C249.37,69.72 249.62,76.12 250.00,80.00C250.38,83.88 250.88,89.13 251.30,88.30C251.72,87.47 252.10,80.00 252.50,75.00C252.90,70.00 253.28,62.05 253.70,58.30C254.12,54.55 254.57,52.50 255.00,52.50C255.43,52.50 255.80,57.05 256.30,58.30C256.80,59.55 257.43,59.72 258.00,60.00C258.57,60.28 259.23,59.17 259.70,60.00C260.17,60.83 260.33,62.50 260.80,65.00C261.27,67.50 261.93,72.63 262.50,75.00C263.07,77.37 263.65,77.40 264.20,79.20C264.75,81.00 265.25,84.13 265.80,85.80C266.35,87.47 266.93,88.92 267.50,89.20C268.07,89.48 268.65,89.03 269.20,87.50C269.75,85.97 270.33,80.42 270.80,80.00C271.27,79.58 271.58,82.22 272.00,85.00C272.42,87.78 272.80,94.25 273.30,96.70C273.80,99.15 274.38,99.28 275.00,99.70C275.62,100.12 276.38,99.98 277.00,99.20C277.62,98.42 278.15,97.65 278.70,95.00C279.25,92.35 279.75,86.92 280.30,83.30C280.85,79.68 281.35,75.80 282.00,73.30C282.65,70.80 283.65,68.30 284.20,68.30C284.75,68.30 284.88,69.68 285.30,73.30C285.72,76.92 286.20,85.83 286.70,90.00C287.20,94.17 287.47,96.68 288.30,98.30C289.13,99.92 290.58,99.57 291.70,99.70C292.82,99.83 294.07,99.72 295.00,99.10C295.93,98.48 296.62,96.93 297.25,96.00C297.88,95.07 298.19,94.02 298.75,93.50C299.31,92.98 300.08,92.73 300.60,92.90C301.12,93.07 301.48,93.67 301.90,94.50C302.32,95.33 302.68,96.98 303.10,97.90C303.52,98.82 303.92,99.60 304.40,100.00C304.88,100.40 305.73,100.25 306.00,100.30" fill="none" stroke="#ff0000" stroke-width="1.1" stroke-opacity="0.85" stroke-linejoin="round"/>
<path d="M197.50,100.30C197.97,100.20 199.13,100.08 200.30,99.70C201.47,99.32 203.25,98.65 204.50,98.00C205.75,97.35 206.83,96.58 207.80,95.80C208.77,95.02 209.55,94.40 210.30,93.30C211.05,92.20 211.68,90.58 212.30,89.20C212.92,87.82 213.50,85.57 214.00,85.00C214.50,84.43 214.92,85.38 215.30,85.80C215.68,86.22 215.88,87.68 216.30,87.50C216.72,87.32 217.35,84.98 217.80,84.70C218.25,84.42 218.63,84.92 219.00,85.80C219.37,86.68 219.63,89.30 220.00,90.00C220.37,90.70 220.73,90.70 221.20,90.00C221.67,89.30 222.25,87.05 222.80,85.80C223.35,84.55 224.02,82.77 224.50,82.50C224.98,82.23 225.28,83.50 225.70,84.20C226.12,84.90 226.57,86.43 227.00,86.70C227.43,86.97 227.88,87.20 228.30,85.80C228.72,84.40 229.08,81.35 229.50,78.30C229.92,75.25 230.33,70.55 230.80,67.50C231.27,64.45 231.88,61.53 232.30,60.00C232.72,58.47 232.93,58.17 233.30,58.30C233.67,58.43 234.10,61.22 234.50,60.80C234.90,60.38 235.28,57.60 235.70,55.80C236.12,54.00 236.57,50.83 237.00,50.00C237.43,49.17 237.85,50.52 238.30,50.80C238.75,51.08 239.22,52.45 239.70,51.70C240.18,50.95 240.77,46.58 241.20,46.30C241.63,46.02 241.95,49.10 242.30,50.00C242.65,50.90 242.93,52.53 243.30,51.70C243.67,50.87 244.17,46.40 244.50,45.00C244.83,43.60 244.97,43.10 245.30,43.30C245.63,43.50 246.08,45.08 246.50,46.20C246.92,47.32 247.38,47.15 247.80,50.00C248.22,52.85 248.63,58.58 249.00,63.30C249.37,68.02 249.63,74.13 250.00,78.30C250.37,82.47 250.78,89.68 251.20,88.30C251.62,86.92 252.08,75.83 252.50,70.00C252.92,64.17 253.33,57.33 253.70,53.30C254.07,49.27 254.35,45.80 254.70,45.80C255.05,45.80 255.42,48.98 255.80,53.30C256.18,57.62 256.58,68.37 257.00,71.70C257.42,75.03 257.85,73.30 258.30,73.30C258.75,73.30 259.28,72.38 259.70,71.70C260.12,71.02 260.42,68.65 260.80,69.20C261.18,69.75 261.58,73.20 262.00,75.00C262.42,76.80 262.80,78.47 263.30,80.00C263.80,81.53 264.43,83.08 265.00,84.20C265.57,85.32 266.15,86.15 266.70,86.70C267.25,87.25 267.80,87.65 268.30,87.50C268.80,87.35 269.28,86.50 269.70,85.80C270.12,85.10 270.42,82.60 270.80,83.30C271.18,84.00 271.58,87.63 272.00,90.00C272.42,92.37 272.85,95.88 273.30,97.50C273.75,99.12 274.20,99.83 274.70,99.70C275.20,99.57 275.75,98.60 276.30,96.70C276.85,94.80 277.52,90.20 278.00,88.30C278.48,86.40 278.82,85.43 279.20,85.30C279.58,85.17 279.88,88.38 280.30,87.50C280.72,86.62 281.25,82.22 281.70,80.00C282.15,77.78 282.58,74.48 283.00,74.20C283.42,73.92 283.82,75.67 284.20,78.30C284.58,80.93 284.83,86.67 285.30,90.00C285.77,93.33 286.35,96.68 287.00,98.30C287.65,99.92 288.15,99.55 289.20,99.70C290.25,99.85 292.12,99.40 293.30,99.20C294.48,99.00 295.23,98.93 296.25,98.50C297.27,98.07 298.57,97.18 299.40,96.60C300.23,96.02 300.73,95.00 301.25,95.00C301.77,95.00 302.04,96.02 302.50,96.60C302.96,97.18 303.48,97.93 304.00,98.50C304.52,99.07 305.10,99.70 305.60,100.00C306.10,100.30 303.02,100.25 307.00,100.30C310.98,100.35 325.75,100.30 329.50,100.30" fill="none" stroke="#0000ff" stroke-width="1.15" stroke-opacity="0.78" stroke-linejoin="round"/>
<path d="M34.50,207.30C35.25,207.13 37.55,206.80 39.00,206.30C40.45,205.80 42.08,205.05 43.20,204.30C44.32,203.55 45.02,202.90 45.70,201.80C46.38,200.70 46.80,199.50 47.30,197.70C47.80,195.90 48.28,194.07 48.70,191.00C49.12,187.93 49.42,182.92 49.80,179.30C50.18,175.68 50.63,171.43 51.00,169.30C51.37,167.17 51.63,166.55 52.00,166.50C52.37,166.45 52.82,169.75 53.20,169.00C53.58,168.25 53.97,165.55 54.30,162.00C54.63,158.45 54.92,151.82 55.20,147.70C55.48,143.58 55.73,138.25 56.00,137.30C56.27,136.35 56.55,138.22 56.80,142.00C57.05,145.78 57.27,154.33 57.50,160.00C57.73,165.67 57.90,173.58 58.20,176.00C58.50,178.42 58.95,175.42 59.30,174.50C59.65,173.58 59.93,171.83 60.30,170.50C60.67,169.17 61.10,166.25 61.50,166.50C61.90,166.75 62.33,169.42 62.70,172.00C63.07,174.58 63.40,178.42 63.70,182.00C64.00,185.58 64.03,191.45 64.50,193.50C64.97,195.55 65.75,193.88 66.50,194.30C67.25,194.72 68.17,195.22 69.00,196.00C69.83,196.78 70.72,198.45 71.50,199.00C72.28,199.55 73.00,199.05 73.70,199.30C74.40,199.55 74.95,199.97 75.70,200.50C76.45,201.03 77.37,202.12 78.20,202.50C79.03,202.88 79.87,203.13 80.70,202.80C81.53,202.47 82.52,201.00 83.20,200.50C83.88,200.00 84.25,199.63 84.80,199.80C85.35,199.97 86.01,200.55 86.50,201.50C86.99,202.45 87.12,205.20 87.75,205.50C88.38,205.80 89.42,203.67 90.25,203.30C91.08,202.93 91.92,203.18 92.75,203.30C93.58,203.42 94.21,203.72 95.25,204.00C96.29,204.28 97.75,204.78 99.00,205.00C100.25,205.22 101.29,205.30 102.75,205.30C104.21,205.30 106.29,204.75 107.75,205.00C109.21,205.25 109.21,206.55 111.50,206.80C113.79,207.05 117.33,206.63 121.50,206.50C125.67,206.37 133.17,205.88 136.50,206.00C139.83,206.12 140.42,207.03 141.50,207.25C142.58,207.47 142.75,207.29 143.00,207.30" fill="none" stroke="#ff0000" stroke-width="1.1" stroke-opacity="0.85" stroke-linejoin="round"/>
<path d="M34.50,207.30C35.25,207.13 37.55,206.80 39.00,206.30C40.45,205.80 42.08,205.05 43.20,204.30C44.32,203.55 45.02,202.90 45.70,201.80C46.38,200.70 46.80,199.50 47.30,197.70C47.80,195.90 48.28,194.07 48.70,191.00C49.12,187.93 49.42,182.92 49.80,179.30C50.18,175.68 50.63,171.57 51.00,169.30C51.37,167.03 51.63,165.83 52.00,165.70C52.37,165.57 52.82,168.87 53.20,168.50C53.58,168.13 53.97,166.42 54.30,163.50C54.63,160.58 54.92,154.62 55.20,151.00C55.48,147.38 55.73,142.63 56.00,141.80C56.27,140.97 56.52,143.08 56.80,146.00C57.08,148.92 57.42,154.72 57.70,159.30C57.98,163.88 58.23,171.13 58.50,173.50C58.77,175.87 59.00,174.05 59.30,173.50C59.60,172.95 59.93,171.45 60.30,170.20C60.67,168.95 61.10,165.87 61.50,166.00C61.90,166.13 62.33,168.50 62.70,171.00C63.07,173.50 63.35,177.53 63.70,181.00C64.05,184.47 64.33,189.30 64.80,191.80C65.27,194.30 65.80,194.97 66.50,196.00C67.20,197.03 68.17,197.45 69.00,198.00C69.83,198.55 70.72,199.30 71.50,199.30C72.28,199.30 73.00,197.85 73.70,198.00C74.40,198.15 74.95,199.57 75.70,200.20C76.45,200.83 77.37,201.33 78.20,201.80C79.03,202.27 79.87,203.13 80.70,203.00C81.53,202.87 82.52,201.62 83.20,201.00C83.88,200.38 84.25,199.17 84.80,199.30C85.35,199.43 86.01,200.68 86.50,201.80C86.99,202.92 87.12,205.72 87.75,206.00C88.38,206.28 89.42,204.00 90.25,203.50C91.08,203.00 91.92,202.92 92.75,203.00C93.58,203.08 94.21,203.58 95.25,204.00C96.29,204.42 97.75,205.25 99.00,205.50C100.25,205.75 101.50,205.42 102.75,205.50C104.00,205.58 105.46,206.04 106.50,206.00C107.54,205.96 108.17,205.08 109.00,205.25C109.83,205.42 110.25,206.79 111.50,207.00C112.75,207.21 114.83,206.58 116.50,206.50C118.17,206.42 120.04,206.42 121.50,206.50C122.96,206.58 122.75,207.00 125.25,207.00C127.75,207.00 133.79,206.46 136.50,206.50C139.21,206.54 136.50,207.12 141.50,207.25C146.50,207.38 162.33,207.29 166.50,207.30" fill="none" stroke="#0000ff" stroke-width="1.15" stroke-opacity="0.78" stroke-linejoin="round"/>
<path d="M197.50,207.50C198.25,207.37 200.55,207.12 202.00,206.70C203.45,206.28 204.95,205.62 206.20,205.00C207.45,204.38 208.67,203.83 209.50,203.00C210.33,202.17 210.65,201.62 211.20,200.00C211.75,198.38 212.25,195.67 212.80,193.30C213.35,190.93 214.00,186.77 214.50,185.80C215.00,184.83 215.38,188.60 215.80,187.50C216.22,186.40 216.60,181.70 217.00,179.20C217.40,176.70 217.83,172.92 218.20,172.50C218.57,172.08 218.85,174.07 219.20,176.70C219.55,179.33 219.92,186.08 220.30,188.30C220.68,190.52 221.08,190.27 221.50,190.00C221.92,189.73 222.38,187.53 222.80,186.70C223.22,185.87 223.58,184.87 224.00,185.00C224.42,185.13 224.85,186.12 225.30,187.50C225.75,188.88 226.28,191.92 226.70,193.30C227.12,194.68 227.33,195.80 227.80,195.80C228.27,195.80 228.93,194.27 229.50,193.30C230.07,192.33 230.65,190.68 231.20,190.00C231.75,189.32 232.25,189.48 232.80,189.20C233.35,188.92 233.93,188.87 234.50,188.30C235.07,187.73 235.73,186.35 236.20,185.80C236.67,185.25 236.88,184.72 237.30,185.00C237.72,185.28 238.25,186.80 238.70,187.50C239.15,188.20 239.50,189.07 240.00,189.20C240.50,189.33 241.15,188.58 241.70,188.30C242.25,188.02 242.70,188.18 243.30,187.50C243.90,186.82 244.63,185.32 245.30,184.20C245.97,183.08 246.73,179.70 247.30,180.80C247.87,181.90 248.25,187.60 248.70,190.80C249.15,194.00 249.62,198.18 250.00,200.00C250.38,201.82 250.67,202.78 251.00,201.70C251.33,200.62 251.55,196.12 252.00,193.50C252.45,190.88 253.20,187.67 253.70,186.00C254.20,184.33 254.57,183.37 255.00,183.50C255.43,183.63 255.88,186.10 256.30,186.80C256.72,187.50 257.02,187.42 257.50,187.70C257.98,187.98 258.73,188.83 259.20,188.50C259.67,188.17 259.88,185.70 260.30,185.70C260.72,185.70 261.25,188.17 261.70,188.50C262.15,188.83 262.50,187.42 263.00,187.70C263.50,187.98 264.08,189.52 264.70,190.20C265.32,190.88 266.10,191.95 266.70,191.80C267.30,191.65 267.80,191.93 268.30,189.30C268.80,186.67 269.20,179.05 269.70,176.00C270.20,172.95 270.83,170.17 271.30,171.00C271.77,171.83 272.10,176.55 272.50,181.00C272.90,185.45 273.23,193.40 273.70,197.70C274.17,202.00 274.75,205.47 275.30,206.80C275.85,208.13 276.50,207.22 277.00,205.70C277.50,204.18 277.85,201.53 278.30,197.70C278.75,193.87 279.28,187.70 279.70,182.70C280.12,177.70 280.42,172.28 280.80,167.70C281.18,163.12 281.58,158.12 282.00,155.20C282.42,152.28 282.93,150.90 283.30,150.20C283.67,149.50 283.87,149.20 284.20,151.00C284.53,152.80 284.88,155.72 285.30,161.00C285.72,166.28 286.20,176.03 286.70,182.70C287.20,189.37 287.75,196.98 288.30,201.00C288.85,205.02 289.05,206.01 290.00,206.80C290.95,207.59 293.02,206.23 294.00,205.75C294.98,205.27 295.32,204.84 295.90,203.90C296.48,202.96 297.02,201.77 297.50,200.10C297.98,198.43 298.33,196.08 298.75,193.90C299.17,191.72 299.58,189.03 300.00,187.00C300.42,184.97 300.90,182.17 301.25,181.75C301.60,181.33 301.85,182.79 302.10,184.50C302.35,186.21 302.53,189.40 302.75,192.00C302.97,194.60 303.15,197.81 303.40,200.10C303.65,202.39 303.94,204.55 304.25,205.75C304.56,206.95 305.08,207.04 305.25,207.30" fill="none" stroke="#ff0000" stroke-width="1.1" stroke-opacity="0.85" stroke-linejoin="round"/>
<path d="M197.50,207.50C198.25,207.37 200.55,207.12 202.00,206.70C203.45,206.28 204.95,205.62 206.20,205.00C207.45,204.38 208.67,203.83 209.50,203.00C210.33,202.17 210.65,201.75 211.20,200.00C211.75,198.25 212.25,195.00 212.80,192.50C213.35,190.00 214.02,185.97 214.50,185.00C214.98,184.03 215.28,187.12 215.70,186.70C216.12,186.28 216.58,184.58 217.00,182.50C217.42,180.42 217.83,175.03 218.20,174.20C218.57,173.37 218.85,175.00 219.20,177.50C219.55,180.00 219.92,186.98 220.30,189.20C220.68,191.42 221.08,191.08 221.50,190.80C221.92,190.52 222.38,188.52 222.80,187.50C223.22,186.48 223.63,184.83 224.00,184.70C224.37,184.57 224.63,185.40 225.00,186.70C225.37,188.00 225.73,190.78 226.20,192.50C226.67,194.22 227.25,196.58 227.80,197.00C228.35,197.42 228.93,195.75 229.50,195.00C230.07,194.25 230.65,193.20 231.20,192.50C231.75,191.80 232.25,191.35 232.80,190.80C233.35,190.25 234.00,190.30 234.50,189.20C235.00,188.10 235.38,185.73 235.80,184.20C236.22,182.67 236.58,180.28 237.00,180.00C237.42,179.72 237.88,181.62 238.30,182.50C238.72,183.38 239.02,184.83 239.50,185.30C239.98,185.77 240.65,185.22 241.20,185.30C241.75,185.38 242.25,185.98 242.80,185.80C243.35,185.62 243.93,184.75 244.50,184.20C245.07,183.65 245.70,182.92 246.20,182.50C246.70,182.08 247.08,180.17 247.50,181.70C247.92,183.23 248.28,188.65 248.70,191.70C249.12,194.75 249.62,198.50 250.00,200.00C250.38,201.50 250.67,201.92 251.00,200.70C251.33,199.48 251.62,195.57 252.00,192.70C252.38,189.83 252.85,185.40 253.30,183.50C253.75,181.60 254.28,181.17 254.70,181.30C255.12,181.43 255.42,182.82 255.80,184.30C256.18,185.78 256.63,189.92 257.00,190.20C257.37,190.48 257.63,186.98 258.00,186.00C258.37,185.02 258.82,185.13 259.20,184.30C259.58,183.47 259.97,181.88 260.30,181.00C260.63,180.12 260.92,178.58 261.20,179.00C261.48,179.42 261.65,182.05 262.00,183.50C262.35,184.95 262.80,186.58 263.30,187.70C263.80,188.82 264.43,189.37 265.00,190.20C265.57,191.03 266.15,192.28 266.70,192.70C267.25,193.12 267.88,194.65 268.30,192.70C268.72,190.75 268.87,184.07 269.20,181.00C269.53,177.93 269.95,174.58 270.30,174.30C270.65,174.02 270.98,176.23 271.30,179.30C271.62,182.37 271.87,188.80 272.20,192.70C272.53,196.60 272.83,200.48 273.30,202.70C273.77,204.92 274.43,205.73 275.00,206.00C275.57,206.27 276.23,205.97 276.70,204.30C277.17,202.63 277.47,199.60 277.80,196.00C278.13,192.40 278.38,185.62 278.70,182.70C279.02,179.78 279.35,178.78 279.70,178.50C280.05,178.22 280.47,182.53 280.80,181.00C281.13,179.47 281.37,173.75 281.70,169.30C282.03,164.85 282.45,157.63 282.80,154.30C283.15,150.97 283.43,149.30 283.80,149.30C284.17,149.30 284.67,150.68 285.00,154.30C285.33,157.92 285.47,164.60 285.80,171.00C286.13,177.40 286.52,187.15 287.00,192.70C287.48,198.25 288.07,202.08 288.70,204.30C289.33,206.52 289.88,205.85 290.80,206.00C291.72,206.15 293.25,205.49 294.20,205.20C295.15,204.91 295.80,204.78 296.50,204.25C297.20,203.72 297.82,203.00 298.40,202.00C298.98,201.00 299.52,199.82 300.00,198.25C300.48,196.68 300.90,193.89 301.25,192.60C301.60,191.31 301.81,190.28 302.10,190.50C302.39,190.72 302.68,193.13 303.00,193.90C303.32,194.67 303.67,194.58 304.00,195.10C304.33,195.62 304.68,195.85 305.00,197.00C305.32,198.15 305.61,200.33 305.90,202.00C306.19,203.67 306.40,206.08 306.75,207.00C307.10,207.92 304.21,207.42 308.00,207.50C311.79,207.58 325.92,207.50 329.50,207.50" fill="none" stroke="#0000ff" stroke-width="1.15" stroke-opacity="0.78" stroke-linejoin="round"/>
<path d="M34.50,348.80C35.80,348.78 40.43,348.95 42.30,348.70C44.17,348.45 44.58,347.80 45.70,347.30C46.82,346.80 47.90,346.13 49.00,345.70C50.10,345.27 51.25,344.98 52.30,344.70C53.35,344.42 54.52,343.92 55.30,344.00C56.08,344.08 56.43,344.87 57.00,345.20C57.57,345.53 58.08,346.08 58.70,346.00C59.32,345.92 59.95,345.03 60.70,344.70C61.45,344.37 62.37,344.33 63.20,344.00C64.03,343.67 64.87,343.20 65.70,342.70C66.53,342.20 67.52,341.62 68.20,341.00C68.88,340.38 69.25,339.70 69.80,339.00C70.35,338.30 71.00,337.43 71.50,336.80C72.00,336.17 72.33,335.33 72.80,335.20C73.27,335.07 73.82,335.53 74.30,336.00C74.78,336.47 75.13,337.50 75.70,338.00C76.27,338.50 77.02,339.00 77.70,339.00C78.38,339.00 79.08,338.22 79.80,338.00C80.52,337.78 81.30,338.08 82.00,337.70C82.70,337.32 83.38,336.40 84.00,335.70C84.62,335.00 85.25,333.45 85.70,333.50C86.15,333.55 86.36,334.75 86.70,336.00C87.04,337.25 87.34,340.75 87.75,341.00C88.16,341.25 88.62,338.52 89.15,337.50C89.68,336.48 90.26,335.48 90.90,334.90C91.54,334.32 92.36,334.21 93.00,334.00C93.64,333.79 94.17,333.36 94.75,333.65C95.33,333.94 95.97,335.75 96.50,335.75C97.03,335.75 97.38,334.17 97.90,333.65C98.43,333.12 99.01,332.69 99.65,332.60C100.29,332.51 101.11,332.72 101.75,333.10C102.39,333.48 102.92,334.81 103.50,334.90C104.08,334.99 104.72,334.67 105.25,333.65C105.78,332.62 106.21,331.61 106.65,328.75C107.09,325.89 107.55,319.07 107.90,316.50C108.25,313.93 108.47,312.77 108.75,313.35C109.03,313.93 109.31,316.56 109.60,320.00C109.89,323.44 110.12,330.35 110.50,334.00C110.88,337.65 111.38,340.15 111.90,341.90C112.43,343.65 113.07,344.36 113.65,344.50C114.23,344.64 114.91,344.21 115.40,342.75C115.89,341.29 116.19,339.83 116.60,335.75C117.01,331.67 117.47,323.79 117.85,318.25C118.23,312.71 118.53,307.17 118.90,302.50C119.28,297.83 119.75,291.71 120.10,290.25C120.45,288.79 120.67,289.96 121.00,293.75C121.33,297.54 121.70,306.29 122.05,313.00C122.40,319.71 122.69,328.75 123.10,334.00C123.51,339.25 123.92,342.23 124.50,344.50C125.08,346.77 125.93,347.02 126.60,347.65C127.27,348.28 127.70,348.36 128.50,348.30C129.30,348.24 130.65,347.88 131.40,347.30C132.15,346.72 132.53,345.93 133.00,344.80C133.47,343.67 133.83,342.30 134.20,340.50C134.57,338.70 134.83,336.33 135.20,334.00C135.57,331.67 136.03,328.42 136.40,326.50C136.77,324.58 137.13,323.37 137.40,322.50C137.67,321.63 137.77,321.13 138.00,321.30C138.23,321.47 138.55,322.05 138.80,323.50C139.05,324.95 139.27,327.25 139.50,330.00C139.73,332.75 139.95,337.25 140.20,340.00C140.45,342.75 140.73,345.08 141.00,346.50C141.27,347.92 141.57,348.12 141.80,348.50C142.03,348.88 142.30,348.75 142.40,348.80" fill="none" stroke="#ff0000" stroke-width="1.1" stroke-opacity="0.85" stroke-linejoin="round"/>
<path d="M34.50,348.80C35.53,348.80 39.12,348.93 40.70,348.80C42.28,348.67 42.90,348.42 44.00,348.00C45.10,347.58 46.33,346.68 47.30,346.30C48.27,345.92 48.97,345.88 49.80,345.70C50.63,345.52 51.55,345.37 52.30,345.20C53.05,345.03 53.68,344.57 54.30,344.70C54.92,344.83 55.43,345.45 56.00,346.00C56.57,346.55 57.20,347.72 57.70,348.00C58.20,348.28 58.57,348.32 59.00,347.70C59.43,347.08 59.88,345.55 60.30,344.30C60.72,343.05 61.10,341.45 61.50,340.20C61.90,338.95 62.23,337.55 62.70,336.80C63.17,336.05 63.75,335.70 64.30,335.70C64.85,335.70 65.50,336.80 66.00,336.80C66.50,336.80 66.85,335.97 67.30,335.70C67.75,335.43 68.28,334.93 68.70,335.20C69.12,335.47 69.42,336.55 69.80,337.30C70.18,338.05 70.52,339.42 71.00,339.70C71.48,339.98 72.15,339.00 72.70,339.00C73.25,339.00 73.67,339.70 74.30,339.70C74.93,339.70 75.85,339.62 76.50,339.00C77.15,338.38 77.65,336.63 78.20,336.00C78.75,335.37 79.25,334.92 79.80,335.20C80.35,335.48 80.93,337.52 81.50,337.70C82.07,337.88 82.65,336.72 83.20,336.30C83.75,335.88 84.33,335.33 84.80,335.20C85.27,335.07 85.51,335.85 86.00,335.50C86.49,335.15 87.22,334.23 87.75,333.10C88.28,331.98 88.71,329.71 89.15,328.75C89.59,327.79 89.99,327.21 90.40,327.35C90.81,327.49 91.17,328.78 91.60,329.60C92.03,330.42 92.47,331.52 93.00,332.25C93.53,332.98 94.22,333.86 94.75,334.00C95.28,334.14 95.71,334.70 96.15,333.10C96.59,331.50 96.99,326.29 97.40,324.40C97.81,322.51 98.22,321.61 98.60,321.75C98.97,321.89 99.36,322.92 99.65,325.25C99.94,327.58 100.00,332.83 100.35,335.75C100.70,338.67 101.22,341.00 101.75,342.75C102.28,344.50 102.86,345.81 103.50,346.25C104.14,346.69 104.87,345.98 105.60,345.40C106.33,344.82 107.14,343.77 107.90,342.75C108.66,341.73 109.43,340.86 110.15,339.25C110.88,337.64 111.67,333.68 112.25,333.10C112.83,332.52 113.21,334.14 113.65,335.75C114.09,337.36 114.49,341.00 114.90,342.75C115.31,344.50 115.67,345.96 116.10,346.25C116.53,346.54 117.07,347.12 117.50,344.50C117.93,341.88 118.35,338.08 118.70,330.50C119.05,322.92 119.37,308.08 119.60,299.00C119.83,289.92 119.95,282.42 120.10,276.00C120.25,269.58 120.35,261.17 120.50,260.50C120.65,259.83 120.82,267.08 121.00,272.00C121.18,276.92 121.42,284.04 121.60,290.00C121.77,295.96 121.86,299.83 122.05,307.75C122.24,315.67 122.49,331.08 122.75,337.50C123.01,343.92 123.16,344.56 123.60,346.25C124.04,347.94 124.92,347.49 125.40,347.65C125.88,347.81 126.07,347.47 126.50,347.20C126.93,346.93 127.50,346.53 128.00,346.00C128.50,345.47 129.00,344.92 129.50,344.00C130.00,343.08 130.50,341.47 131.00,340.50C131.50,339.53 132.07,338.48 132.50,338.20C132.93,337.92 133.27,339.00 133.60,338.80C133.93,338.60 134.22,337.97 134.50,337.00C134.78,336.03 135.00,334.83 135.30,333.00C135.60,331.17 135.97,327.90 136.30,326.00C136.63,324.10 137.03,321.77 137.30,321.60C137.57,321.43 137.72,322.77 137.90,325.00C138.08,327.23 138.23,331.67 138.40,335.00C138.57,338.33 138.70,342.77 138.90,345.00C139.10,347.23 139.35,347.77 139.60,348.40C139.85,349.03 140.17,348.73 140.40,348.80C140.63,348.87 136.65,348.80 141.00,348.80C145.35,348.80 162.25,348.80 166.50,348.80" fill="none" stroke="#000000" stroke-width="1.0" stroke-opacity="0.85" stroke-linejoin="round"/>
<path d="M196.50,347.90C197.62,347.60 201.35,347.00 203.20,346.10C205.05,345.20 206.42,343.63 207.60,342.50C208.78,341.37 209.55,340.48 210.30,339.30C211.05,338.12 211.50,336.80 212.10,335.40C212.70,334.00 213.37,331.50 213.90,330.90C214.43,330.30 214.82,331.80 215.30,331.80C215.78,331.80 216.38,330.75 216.80,330.90C217.22,331.05 217.38,331.52 217.80,332.70C218.22,333.88 218.82,336.67 219.30,338.00C219.78,339.33 220.23,340.85 220.70,340.70C221.17,340.55 221.60,339.03 222.10,337.10C222.60,335.17 223.18,330.13 223.70,329.10C224.22,328.07 224.68,330.45 225.20,330.90C225.72,331.35 226.23,332.55 226.80,331.80C227.37,331.05 228.07,328.93 228.60,326.40C229.13,323.87 229.53,319.33 230.00,316.60C230.47,313.87 230.95,310.45 231.40,310.00C231.85,309.55 232.28,313.55 232.70,313.90C233.12,314.25 233.52,313.88 233.90,312.10C234.28,310.32 234.60,306.18 235.00,303.20C235.40,300.22 235.88,296.45 236.30,294.20C236.72,291.95 237.12,290.00 237.50,289.70C237.88,289.40 238.22,291.35 238.60,292.40C238.98,293.45 239.38,295.85 239.80,296.00C240.22,296.15 240.70,293.45 241.10,293.30C241.50,293.15 241.82,295.55 242.20,295.10C242.58,294.65 242.98,291.78 243.40,290.60C243.82,289.42 244.25,288.15 244.70,288.00C245.15,287.85 245.63,289.70 246.10,289.70C246.57,289.70 247.12,287.25 247.50,288.00C247.88,288.75 248.10,290.18 248.40,294.20C248.70,298.22 249.00,306.13 249.30,312.10C249.60,318.07 249.93,326.27 250.20,330.00C250.47,333.73 250.67,335.40 250.90,334.50C251.13,333.60 251.25,329.82 251.60,324.60C251.95,319.38 252.55,308.42 253.00,303.20C253.45,297.98 253.88,294.50 254.30,293.30C254.72,292.10 255.07,294.80 255.50,296.00C255.93,297.20 256.42,299.75 256.90,300.50C257.38,301.25 257.95,299.92 258.40,300.50C258.85,301.08 259.18,302.37 259.60,304.00C260.02,305.63 260.45,308.20 260.90,310.30C261.35,312.40 261.83,313.92 262.30,316.60C262.77,319.28 263.25,323.57 263.70,326.40C264.15,329.23 264.48,332.25 265.00,333.60C265.52,334.95 266.20,334.80 266.80,334.50C267.40,334.20 268.10,333.30 268.60,331.80C269.10,330.30 269.42,326.70 269.80,325.50C270.18,324.30 270.57,323.85 270.90,324.60C271.23,325.35 271.50,327.62 271.80,330.00C272.10,332.38 272.35,336.37 272.70,338.90C273.05,341.43 273.40,344.00 273.90,345.20C274.40,346.40 275.10,346.25 275.70,346.10C276.30,345.95 276.90,345.80 277.50,344.30C278.10,342.80 278.78,340.98 279.30,337.10C279.82,333.22 280.15,325.02 280.60,321.00C281.05,316.98 281.53,314.78 282.00,313.00C282.47,311.22 283.02,309.55 283.40,310.30C283.78,311.05 284.00,313.62 284.30,317.50C284.60,321.38 284.83,329.13 285.20,333.60C285.57,338.07 285.98,341.95 286.50,344.30C287.02,346.65 287.43,347.13 288.30,347.70C289.18,348.27 290.76,347.88 291.75,347.70C292.74,347.52 293.52,347.20 294.25,346.60C294.98,346.00 295.48,345.13 296.10,344.10C296.73,343.07 297.43,341.23 298.00,340.40C298.57,339.57 299.04,339.00 299.50,339.10C299.96,339.20 300.38,340.06 300.75,341.00C301.12,341.94 301.42,343.63 301.75,344.75C302.08,345.87 302.38,347.18 302.75,347.70C303.12,348.22 303.79,347.87 304.00,347.90" fill="none" stroke="#ff0000" stroke-width="1.1" stroke-opacity="0.85" stroke-linejoin="round"/>
<path d="M196.50,347.90C197.32,347.66 200.00,347.05 201.40,346.45C202.80,345.85 203.87,345.11 204.90,344.30C205.93,343.49 206.70,342.50 207.60,341.60C208.50,340.70 209.55,339.50 210.30,338.90C211.05,338.30 211.50,337.93 212.10,338.00C212.70,338.07 213.30,339.38 213.90,339.30C214.50,339.22 215.17,338.15 215.70,337.50C216.23,336.85 216.65,335.47 217.10,335.40C217.55,335.33 218.03,335.77 218.40,337.10C218.77,338.43 218.95,341.75 219.30,343.40C219.65,345.05 220.12,346.70 220.50,347.00C220.88,347.30 221.22,346.85 221.60,345.20C221.98,343.55 222.35,340.83 222.80,337.10C223.25,333.37 223.85,326.97 224.30,322.80C224.75,318.63 225.08,314.42 225.50,312.10C225.92,309.78 226.35,309.35 226.80,308.90C227.25,308.45 227.78,309.92 228.20,309.40C228.62,308.88 228.93,307.28 229.30,305.80C229.67,304.32 230.08,301.60 230.40,300.50C230.72,299.40 230.88,298.90 231.20,299.20C231.52,299.50 231.90,300.90 232.30,302.30C232.70,303.70 233.15,306.50 233.60,307.60C234.05,308.70 234.47,308.80 235.00,308.90C235.53,309.00 236.15,308.57 236.80,308.20C237.45,307.83 238.30,307.53 238.90,306.70C239.50,305.87 240.03,304.98 240.40,303.20C240.77,301.42 240.87,298.70 241.10,296.00C241.33,293.30 241.53,289.50 241.80,287.00C242.07,284.50 242.37,281.00 242.70,281.00C243.03,281.00 243.47,283.30 243.80,287.00C244.13,290.70 244.38,298.27 244.70,303.20C245.02,308.13 245.32,314.97 245.70,316.60C246.08,318.23 246.58,314.05 247.00,313.00C247.42,311.95 247.82,311.93 248.20,310.30C248.58,308.67 248.97,306.88 249.30,303.20C249.63,299.52 249.92,292.05 250.20,288.20C250.48,284.35 250.75,282.48 251.00,280.10C251.25,277.72 251.48,275.05 251.70,273.90C251.92,272.75 252.05,274.60 252.30,273.20C252.55,271.80 252.83,267.57 253.20,265.50C253.57,263.43 254.13,260.75 254.50,260.75C254.87,260.75 255.20,263.24 255.40,265.50C255.60,267.76 255.57,271.00 255.70,274.30C255.83,277.60 256.03,282.18 256.20,285.30C256.37,288.42 256.43,288.53 256.70,293.00C256.97,297.47 257.40,307.57 257.80,312.10C258.20,316.63 258.65,319.90 259.10,320.20C259.55,320.50 260.08,316.88 260.50,313.90C260.92,310.92 261.30,303.95 261.60,302.30C261.90,300.65 262.03,301.47 262.30,304.00C262.57,306.53 262.90,312.57 263.20,317.50C263.50,322.43 263.80,329.13 264.10,333.60C264.40,338.07 264.55,342.15 265.00,344.30C265.45,346.45 266.12,346.50 266.80,346.50C267.48,346.50 268.35,345.27 269.10,344.30C269.85,343.33 270.50,342.18 271.30,340.70C272.10,339.22 273.17,336.88 273.90,335.40C274.63,333.92 275.18,331.80 275.70,331.80C276.22,331.80 276.55,333.62 277.00,335.40C277.45,337.18 277.95,342.22 278.40,342.50C278.85,342.78 279.33,340.38 279.70,337.10C280.07,333.82 280.28,327.57 280.60,322.80C280.92,318.03 281.22,312.37 281.60,308.50C281.98,304.63 282.53,299.60 282.90,299.60C283.27,299.60 283.50,303.13 283.80,308.50C284.10,313.87 284.40,325.68 284.70,331.80C285.00,337.92 285.15,342.67 285.60,345.20C286.05,347.73 286.58,346.87 287.40,347.00C288.22,347.13 289.57,346.58 290.50,346.00C291.43,345.42 292.33,344.02 293.00,343.50C293.67,342.98 294.04,342.73 294.50,342.90C294.96,343.07 295.27,344.50 295.75,344.50C296.23,344.50 296.86,343.32 297.40,342.90C297.94,342.48 298.58,341.69 299.00,342.00C299.42,342.31 299.61,343.83 299.90,344.75C300.19,345.67 300.40,346.98 300.75,347.50C301.10,348.02 297.38,347.83 302.00,347.90C306.62,347.97 324.08,347.90 328.50,347.90" fill="none" stroke="#000000" stroke-width="1.0" stroke-opacity="0.85" stroke-linejoin="round"/>
<path d="M34.50,471.20C35.35,471.05 38.12,470.67 39.60,470.30C41.08,469.93 42.40,469.53 43.40,469.00C44.40,468.47 44.92,468.20 45.60,467.10C46.28,466.00 46.93,464.75 47.50,462.40C48.07,460.05 48.50,457.37 49.00,453.00C49.50,448.63 50.03,441.03 50.50,436.20C50.97,431.37 51.37,426.35 51.80,424.00C52.23,421.65 52.75,424.43 53.10,422.10C53.45,419.77 53.65,414.52 53.90,410.00C54.15,405.48 54.38,398.25 54.60,395.00C54.82,391.75 54.95,389.25 55.20,390.50C55.45,391.75 55.82,397.38 56.10,402.50C56.38,407.62 56.65,415.90 56.90,421.20C57.15,426.50 57.37,432.58 57.60,434.30C57.83,436.02 57.98,432.37 58.30,431.50C58.62,430.63 59.12,429.72 59.50,429.10C59.88,428.48 60.27,427.55 60.60,427.80C60.93,428.05 61.18,428.58 61.50,430.60C61.82,432.62 62.15,436.78 62.50,439.90C62.85,443.02 63.20,446.80 63.60,449.30C64.00,451.80 64.37,453.65 64.90,454.90C65.43,456.15 66.23,456.55 66.80,456.80C67.37,457.05 67.83,456.08 68.30,456.40C68.77,456.72 69.07,457.70 69.60,458.70C70.13,459.70 70.88,462.03 71.50,462.40C72.12,462.77 72.68,460.90 73.30,460.90C73.92,460.90 74.50,461.77 75.20,462.40C75.90,463.03 76.72,464.13 77.50,464.70C78.28,465.27 79.10,465.72 79.90,465.80C80.70,465.88 81.58,465.67 82.30,465.20C83.02,464.73 83.58,463.16 84.20,463.00C84.82,462.84 85.41,463.42 86.00,464.25C86.59,465.08 87.04,467.79 87.75,468.00C88.46,468.21 89.42,465.83 90.25,465.50C91.08,465.17 91.92,465.58 92.75,466.00C93.58,466.42 94.42,467.46 95.25,468.00C96.08,468.54 96.50,468.92 97.75,469.25C99.00,469.58 101.29,470.00 102.75,470.00C104.21,470.00 105.46,469.25 106.50,469.25C107.54,469.25 107.75,469.79 109.00,470.00C110.25,470.21 111.08,470.42 114.00,470.50C116.92,470.58 122.75,470.58 126.50,470.50C130.25,470.42 134.21,469.92 136.50,470.00C138.79,470.08 139.33,470.80 140.25,471.00C141.17,471.20 141.71,471.17 142.00,471.20" fill="none" stroke="#ff0000" stroke-width="1.1" stroke-opacity="0.85" stroke-linejoin="round"/>
<path d="M34.50,471.20C35.03,471.05 36.68,470.83 37.70,470.30C38.72,469.77 39.82,469.00 40.60,468.00C41.38,467.00 41.88,466.17 42.40,464.30C42.92,462.43 43.28,460.23 43.70,456.80C44.12,453.37 44.55,448.70 44.90,443.70C45.25,438.70 45.50,432.73 45.80,426.80C46.10,420.87 46.38,413.40 46.70,408.10C47.02,402.80 47.35,398.55 47.70,395.00C48.05,391.45 48.48,387.73 48.80,386.80C49.12,385.87 49.32,387.72 49.60,389.40C49.88,391.08 50.17,394.42 50.50,396.90C50.83,399.38 51.23,401.97 51.60,404.30C51.97,406.63 52.38,410.90 52.70,410.90C53.02,410.90 53.27,407.58 53.50,404.30C53.73,401.02 53.88,395.37 54.10,391.20C54.32,387.03 54.55,379.92 54.80,379.30C55.05,378.68 55.32,383.33 55.60,387.50C55.88,391.67 56.23,396.82 56.50,404.30C56.77,411.78 56.95,423.65 57.20,432.40C57.45,441.15 57.75,451.02 58.00,456.80C58.25,462.58 58.40,465.23 58.70,467.10C59.00,468.97 59.38,468.47 59.80,468.00C60.22,467.53 60.75,465.30 61.20,464.30C61.65,463.30 62.03,462.47 62.50,462.00C62.97,461.53 63.45,461.43 64.00,461.50C64.55,461.57 65.18,462.10 65.80,462.40C66.42,462.70 67.07,462.67 67.70,463.30C68.33,463.93 68.82,465.47 69.60,466.20C70.38,466.93 71.47,467.33 72.40,467.70C73.33,468.07 74.10,468.35 75.20,468.40C76.30,468.45 77.90,468.00 79.00,468.00C80.10,468.00 80.72,468.23 81.80,468.40C82.88,468.57 84.30,468.86 85.50,469.00C86.70,469.14 87.17,469.08 89.00,469.25C90.83,469.42 94.00,469.88 96.50,470.00C99.00,470.12 101.08,469.90 104.00,470.00C106.92,470.10 109.67,470.43 114.00,470.60C118.33,470.77 121.25,470.90 130.00,471.00C138.75,471.10 160.42,471.17 166.50,471.20" fill="none" stroke="#000000" stroke-width="1.0" stroke-opacity="0.85" stroke-linejoin="round"/>
<path d="M196.50,471.20C197.53,471.13 201.12,471.13 202.70,470.80C204.28,470.47 205.03,469.88 206.00,469.20C206.97,468.52 207.80,467.95 208.50,466.70C209.20,465.45 209.73,463.93 210.20,461.70C210.67,459.47 210.88,455.80 211.30,453.30C211.72,450.80 212.25,448.22 212.70,446.70C213.15,445.18 213.58,444.70 214.00,444.20C214.42,443.70 214.82,444.68 215.20,443.70C215.58,442.72 215.95,440.30 216.30,438.30C216.65,436.30 216.81,429.46 217.30,431.70C217.79,433.94 218.72,448.82 219.25,451.75C219.78,454.68 219.97,450.08 220.50,449.25C221.03,448.42 221.88,447.17 222.40,446.75C222.92,446.33 223.18,445.92 223.60,446.75C224.02,447.58 224.48,450.08 224.90,451.75C225.32,453.42 225.68,455.81 226.10,456.75C226.52,457.69 226.98,457.71 227.40,457.40C227.82,457.09 228.18,455.84 228.60,454.90C229.02,453.96 229.48,452.48 229.90,451.75C230.32,451.02 230.68,450.81 231.10,450.50C231.52,450.19 231.98,450.11 232.40,449.90C232.82,449.69 233.18,449.88 233.60,449.25C234.02,448.62 234.48,446.93 234.90,446.10C235.32,445.27 235.68,444.35 236.10,444.25C236.52,444.15 236.98,444.77 237.40,445.50C237.82,446.23 238.18,447.77 238.60,448.60C239.02,449.43 239.48,450.28 239.90,450.50C240.32,450.72 240.68,450.11 241.10,449.90C241.52,449.69 241.98,449.57 242.40,449.25C242.82,448.93 243.18,448.73 243.60,448.00C244.02,447.27 244.48,446.05 244.90,444.90C245.32,443.75 245.68,441.83 246.10,441.10C246.52,440.37 247.04,439.98 247.40,440.50C247.76,441.02 247.94,442.17 248.25,444.25C248.56,446.33 248.92,450.08 249.25,453.00C249.58,455.92 249.94,459.88 250.25,461.75C250.56,463.62 250.81,464.46 251.10,464.25C251.39,464.04 251.68,462.38 252.00,460.50C252.32,458.62 252.62,455.29 253.00,453.00C253.38,450.71 253.83,448.10 254.25,446.75C254.67,445.40 255.08,445.21 255.50,444.90C255.92,444.59 256.33,444.59 256.75,444.90C257.17,445.21 257.58,446.02 258.00,446.75C258.42,447.48 258.80,449.29 259.25,449.25C259.70,449.21 260.24,446.56 260.70,446.50C261.16,446.44 261.47,447.97 262.00,448.90C262.53,449.83 263.27,451.10 263.90,452.10C264.53,453.10 265.17,454.43 265.80,454.90C266.43,455.37 267.17,456.45 267.70,454.90C268.23,453.35 268.60,449.03 269.00,445.60C269.40,442.17 269.78,436.97 270.10,434.30C270.42,431.63 270.62,429.28 270.90,429.60C271.18,429.92 271.50,431.98 271.80,436.20C272.10,440.42 272.37,449.75 272.70,454.90C273.03,460.05 273.38,464.45 273.80,467.10C274.22,469.75 274.67,470.33 275.20,470.80C275.73,471.27 276.45,470.98 277.00,469.90C277.55,468.82 278.03,467.42 278.50,464.30C278.97,461.18 279.42,456.52 279.80,451.20C280.18,445.88 280.48,438.48 280.80,432.40C281.12,426.32 281.37,419.22 281.70,414.70C282.03,410.18 282.48,406.40 282.80,405.30C283.12,404.20 283.32,404.52 283.60,408.10C283.88,411.68 284.18,419.62 284.50,426.80C284.82,433.98 285.15,444.63 285.50,451.20C285.85,457.77 286.13,462.93 286.60,466.20C287.07,469.47 287.40,470.18 288.30,470.80C289.20,471.42 291.20,470.12 292.00,469.90C292.80,469.68 292.60,469.77 293.10,469.50C293.60,469.23 294.43,469.08 295.00,468.25C295.57,467.42 296.04,466.17 296.50,464.50C296.96,462.83 297.33,460.96 297.75,458.25C298.17,455.54 298.59,450.96 299.00,448.25C299.41,445.54 299.87,442.62 300.20,442.00C300.53,441.38 300.72,442.42 301.00,444.50C301.28,446.58 301.61,451.17 301.90,454.50C302.19,457.83 302.44,462.00 302.75,464.50C303.06,467.00 303.42,468.42 303.75,469.50C304.08,470.58 304.58,470.75 304.75,471.00" fill="none" stroke="#ff0000" stroke-width="1.1" stroke-opacity="0.85" stroke-linejoin="round"/>
<path d="M196.50,471.20C197.12,471.13 199.03,471.05 200.20,470.80C201.37,470.55 202.58,470.38 203.50,469.70C204.42,469.02 205.07,468.60 205.70,466.70C206.33,464.80 206.75,461.92 207.30,458.30C207.85,454.68 208.52,448.47 209.00,445.00C209.48,441.53 209.82,439.50 210.20,437.50C210.58,435.50 210.88,433.28 211.30,433.00C211.72,432.72 212.25,434.68 212.70,435.80C213.15,436.92 213.58,438.58 214.00,439.70C214.42,440.82 214.87,442.73 215.20,442.50C215.53,442.27 215.70,440.52 216.00,438.30C216.30,436.08 216.67,430.03 217.00,429.20C217.33,428.37 217.73,430.38 218.00,433.30C218.27,436.23 218.35,442.22 218.60,446.75C218.85,451.28 219.14,456.86 219.50,460.50C219.86,464.14 220.33,467.56 220.75,468.60C221.17,469.64 221.62,468.31 222.00,466.75C222.38,465.19 222.67,461.75 223.00,459.25C223.33,456.75 223.62,454.04 224.00,451.75C224.38,449.46 224.88,446.92 225.25,445.50C225.62,444.08 225.89,443.57 226.25,443.25C226.61,442.93 227.07,443.89 227.40,443.60C227.73,443.31 227.94,441.77 228.25,441.50C228.56,441.23 228.92,442.07 229.25,442.00C229.58,441.93 229.94,440.83 230.25,441.10C230.56,441.37 230.81,442.45 231.10,443.60C231.39,444.75 231.68,446.75 232.00,448.00C232.32,449.25 232.62,450.37 233.00,451.10C233.38,451.83 233.83,451.98 234.25,452.40C234.67,452.82 235.08,453.29 235.50,453.60C235.92,453.91 236.33,454.25 236.75,454.25C237.17,454.25 237.58,454.02 238.00,453.60C238.42,453.18 238.83,452.58 239.25,451.75C239.67,450.92 240.08,450.06 240.50,448.60C240.92,447.14 241.38,444.45 241.75,443.00C242.12,441.55 242.44,440.11 242.75,439.90C243.06,439.69 243.31,440.61 243.60,441.75C243.89,442.89 244.14,445.61 244.50,446.75C244.86,447.89 245.33,448.39 245.75,448.60C246.17,448.81 246.58,448.20 247.00,448.00C247.42,447.80 247.83,447.50 248.25,447.40C248.67,447.30 249.12,447.72 249.50,447.40C249.88,447.08 250.17,446.86 250.50,445.50C250.83,444.14 251.18,440.88 251.50,439.25C251.82,437.62 252.05,436.38 252.40,435.75C252.75,435.12 253.25,435.23 253.60,435.50C253.95,435.77 254.18,436.36 254.50,437.40C254.82,438.44 255.12,440.19 255.50,441.75C255.88,443.31 256.33,445.39 256.75,446.75C257.17,448.11 257.62,449.17 258.00,449.90C258.38,450.62 258.70,452.13 259.00,451.10C259.30,450.07 259.52,446.03 259.80,443.70C260.08,441.37 260.42,438.50 260.70,437.10C260.98,435.70 261.22,434.83 261.50,435.30C261.78,435.77 262.08,437.57 262.40,439.90C262.72,442.23 263.05,446.17 263.40,449.30C263.75,452.43 264.10,455.88 264.50,458.70C264.90,461.52 265.27,464.48 265.80,466.20C266.33,467.92 267.08,468.85 267.70,469.00C268.32,469.15 268.88,467.88 269.50,467.10C270.12,466.32 270.77,465.70 271.40,464.30C272.03,462.90 272.67,460.73 273.30,458.70C273.93,456.67 274.73,453.05 275.20,452.10C275.67,451.15 275.80,451.90 276.10,453.00C276.40,454.10 276.68,456.67 277.00,458.70C277.32,460.73 277.68,463.95 278.00,465.20C278.32,466.45 278.60,467.28 278.90,466.20C279.20,465.12 279.48,463.70 279.80,458.70C280.12,453.70 280.48,444.63 280.80,436.20C281.12,427.77 281.47,416.13 281.70,408.10C281.93,400.07 282.03,394.05 282.20,388.00C282.37,381.95 282.53,371.80 282.70,371.80C282.87,371.80 283.03,381.63 283.20,388.00C283.37,394.37 283.48,401.97 283.70,410.00C283.92,418.03 284.20,428.08 284.50,436.20C284.80,444.32 285.18,453.40 285.50,458.70C285.82,464.00 285.93,466.13 286.40,468.00C286.87,469.87 287.70,469.75 288.30,469.90C288.90,470.05 289.40,469.38 290.00,468.90C290.60,468.42 291.32,467.98 291.90,467.00C292.48,466.02 293.02,464.21 293.50,463.00C293.98,461.79 294.33,460.38 294.75,459.75C295.17,459.12 295.58,459.12 296.00,459.25C296.42,459.38 296.90,461.29 297.25,460.50C297.60,459.71 297.81,456.75 298.10,454.50C298.39,452.25 298.73,448.98 299.00,447.00C299.27,445.02 299.54,442.81 299.75,442.60C299.96,442.39 300.08,443.35 300.25,445.75C300.42,448.15 300.58,453.46 300.75,457.00C300.92,460.54 301.06,464.75 301.25,467.00C301.44,469.25 301.61,469.80 301.90,470.50C302.19,471.20 298.57,471.08 303.00,471.20C307.43,471.32 324.25,471.20 328.50,471.20" fill="none" stroke="#000000" stroke-width="1.0" stroke-opacity="0.85" stroke-linejoin="round"/>
</svg></body></html>
